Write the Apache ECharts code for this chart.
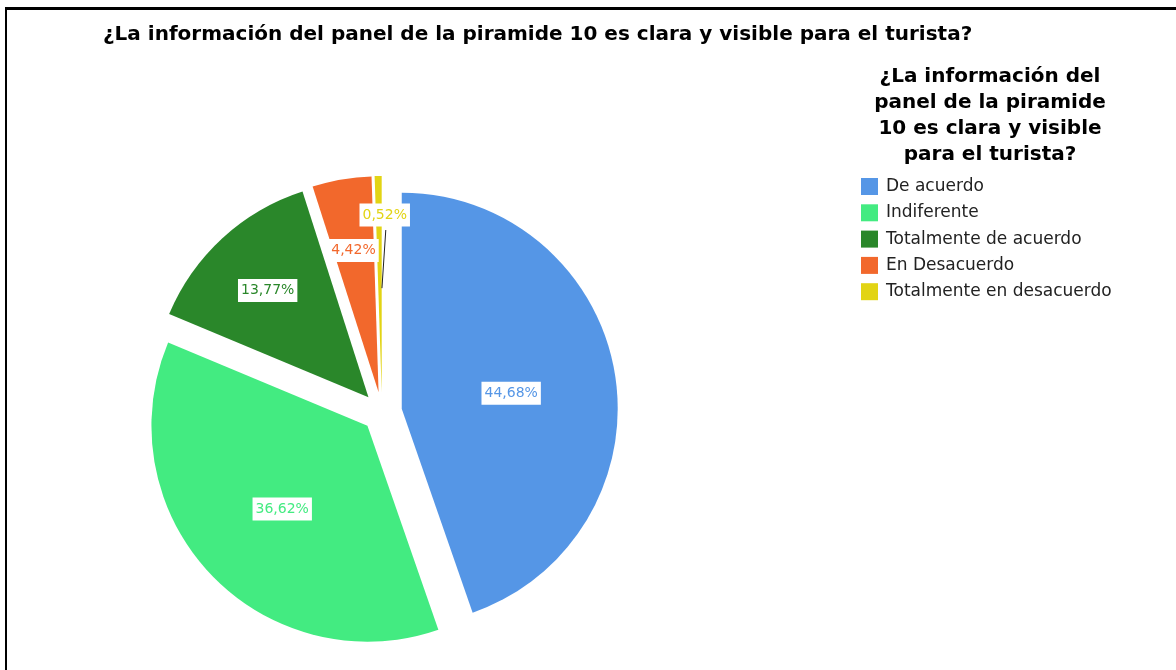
<!DOCTYPE html>
<html>
<head>
<meta charset="utf-8">
<script src="https://cdn.jsdelivr.net/npm/echarts@6/dist/echarts.min.js"></script>
<style>
  html, body { margin: 0; padding: 0; background: #fff; }
  #chart { width: 1176px; height: 670px; }
  .frame {
    position: absolute; left: 5px; top: 7px; right: 0; bottom: 0;
    border-top: 3px solid #000; border-left: 2px solid #000;
    pointer-events: none;
  }
</style>
</head>
<body>
<div id="chart"></div>
<div class="frame"></div>
<script>
const chartTitle = '¿La información del panel de la piramide 10 es clara y visible para el turista?';
const legendTitle = ['¿La información del', 'panel de la piramide', '10 es clara y visible', 'para el turista?'];
const categories = ['De acuerdo', 'Indiferente', 'Totalmente de acuerdo', 'En Desacuerdo', 'Totalmente en desacuerdo'];
const percents = [44.68, 36.62, 13.77, 4.42, 0.52];
const colors = ['#5596e6', '#43eb81', '#2a872a', '#f2682c', '#e2d414'];

// extra push (px) of each label away from the slice centre, past the default inside radius
const labelShift = [0, 6, 38, 36, 69];
const labelNudgeX = [0, 0, 0, 0, 6];

const pieCenter = [382, 412];
const pieRadius = 216;
const explode = 20;

const total = percents.reduce((a, b) => a + b, 0);
let acc = 0;
const midAngles = percents.map(v => {
  const a = (acc + v / 2) / total * Math.PI * 2;
  acc += v;
  return a;
});

// leader line of the smallest slice: from its default inside spot up to the moved label
const last = percents.length - 1;
const sa = Math.sin(midAngles[last]), ca = Math.cos(midAngles[last]);
const apex = [pieCenter[0] + sa * explode, pieCenter[1] - ca * explode];
const inner = pieRadius * 0.49;
const outer = pieRadius / 2 + labelShift[last];
const leader = [
  [apex[0] + sa * inner + 2, apex[1] - ca * inner + 2],
  [apex[0] + sa * outer + 7, apex[1] - ca * outer + 15]
];

const chart = echarts.init(document.getElementById('chart'));
const font = 'DejaVu Sans, Verdana, sans-serif';

const option = {
  animation: false,
  title: {
    text: chartTitle,
    left: 103,
    top: 25,
    padding: 0,
    textStyle: { fontFamily: font, fontSize: 20, fontWeight: 'bold', color: '#000' }
  },
  graphic: [{
    type: 'text',
    x: 990,
    y: 64,
    style: {
      text: legendTitle.join('\n'),
      align: 'center',
      verticalAlign: 'top',
      font: 'bold 20px ' + font,
      lineHeight: 26,
      fill: '#000'
    }
  }, {
    type: 'polyline',
    z: 10,
    shape: { points: leader },
    style: { stroke: '#222', lineWidth: 1, fill: null }
  }],
  legend: {
    orient: 'vertical',
    left: 861,
    top: 178,
    padding: 0,
    itemWidth: 17,
    itemHeight: 17,
    itemGap: 9.3,
    icon: 'rect',
    selectedMode: false,
    data: categories,
    textStyle: { fontFamily: font, fontSize: 17, color: '#222', padding: [0, 0, 0, 3] }
  },
  series: [{
    type: 'pie',
    center: pieCenter,
    radius: pieRadius,
    startAngle: 90,
    clockwise: true,
    avoidLabelOverlap: false,
    selectedMode: 'multiple',
    selectedOffset: explode,
    emphasis: { disabled: true },
    itemStyle: { borderWidth: 0 },
    label: {
      position: 'inside',
      formatter: p => p.value.toFixed(2).replace('.', ',') + '%',
      fontFamily: font,
      fontSize: 14,
      backgroundColor: '#fff',
      padding: [5, 3, 4, 3]
    },
    labelLine: { show: false },
    labelLayout: function (p) {
      const i = p.dataIndex;
      const a = midAngles[i];
      return {
        dx: Math.sin(a) * labelShift[i] + labelNudgeX[i],
        dy: -Math.cos(a) * labelShift[i] + 3
      };
    },
    data: categories.map((name, i) => ({
      name: name,
      value: percents[i],
      selected: true,
      itemStyle: { color: colors[i] },
      label: { color: colors[i] }
    }))
  }]
};

chart.setOption(option);
</script>
</body>
</html>
